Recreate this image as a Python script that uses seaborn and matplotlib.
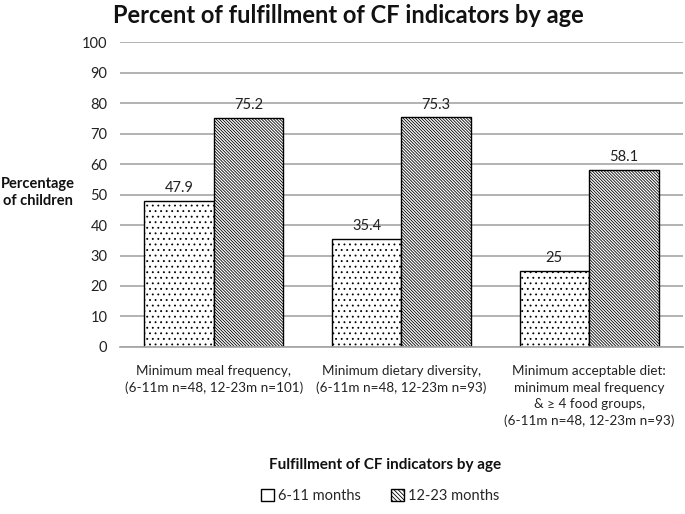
import matplotlib
matplotlib.use("Agg")
import matplotlib.pyplot as plt
import seaborn as sns
import pandas as pd

categories = [
    "Minimum meal frequency,\n(6-11m n=48, 12-23m n=101)",
    "Minimum dietary diversity,\n(6-11m n=48, 12-23m n=93)",
    "Minimum acceptable diet:\nminimum meal frequency\n& \u2265 4 food groups,\n(6-11m n=48, 12-23m n=93)",
]
series = ["6-11 months", "12-23 months"]
values_6_11 = [47.9, 35.4, 25]
values_12_23 = [75.2, 75.3, 58.1]
value_labels_6_11 = ["47.9", "35.4", "25"]
value_labels_12_23 = ["75.2", "75.3", "58.1"]

df = pd.DataFrame({
    "category": categories * 2,
    "age": [series[0]] * 3 + [series[1]] * 3,
    "value": values_6_11 + values_12_23,
})

sns.set_theme(style="white")
plt.rcParams["font.family"] = ["Lato", "DejaVu Sans"]
plt.rcParams["hatch.linewidth"] = 0.6
plt.rcParams["hatch.color"] = "#333333"

fig = plt.figure(figsize=(6.85, 5.14), dpi=100)
ax = fig.add_axes([0.175, 0.325, 0.822, 0.593])

sns.barplot(data=df, x="category", y="value", hue="age", hue_order=series,
            palette=["white", "white"], width=0.74, edgecolor="black",
            linewidth=1.0, ax=ax, legend=True, saturation=1)

hatches = ["...", "\\" * 11]
for i, cont in enumerate(ax.containers):
    for bar in cont:
        bar.set_hatch(hatches[i])
        bar.set_edgecolor("black")
labels_all = [value_labels_6_11, value_labels_12_23]
for i, cont in enumerate(ax.containers):
    ax.bar_label(cont, labels=labels_all[i], padding=4, fontsize=10.5, color="#222222")

ax.set_ylim(0, 100)
ax.set_yticks(range(0, 101, 10))
ax.yaxis.grid(True, color="#a6a6a6", linewidth=1.2)
ax.set_axisbelow(True)
for s in ["left", "right", "top"]:
    ax.spines[s].set_visible(False)
ax.spines["bottom"].set_color("#a6a6a6")
ax.tick_params(axis="y", labelsize=10.5, colors="#222222", length=0, pad=9)
ax.tick_params(axis="x", labelsize=9.7, colors="#222222", length=0, pad=13)
for t in ax.get_xticklabels():
    t.set_linespacing(1.45)
ax.set_xlim(-0.5, 2.5)

ax.set_xlabel("")
ax.set_ylabel("")
fig.text(0.562, 0.095, "Fulfillment of CF indicators by age", ha="center", va="center",
         fontsize=11, fontweight="bold", color="#111111")
fig.text(0.055, 0.625, "Percentage\nof children", ha="center", va="center",
         fontsize=10.5, fontweight="bold", color="#111111", linespacing=1.25)
fig.text(0.508, 0.97, "Percent of fulfillment of CF indicators by age", ha="center",
         va="center", fontsize=17, fontweight="bold", color="#111111")

handles, lbls = ax.get_legend_handles_labels()
leg = ax.legend(handles, lbls, loc="center", bbox_to_anchor=(0.555, 0.035),
                bbox_transform=fig.transFigure,
                ncol=2, frameon=False, fontsize=10.5, handlelength=0.9, handleheight=0.9,
                columnspacing=2.0, handletextpad=0.3)
for h, hat in zip(leg.legend_handles, ["", "\\" * 8]):
    h.set_hatch(hat)
    h.set_edgecolor("black")
    h.set_facecolor("white")

fig.savefig("out.png", dpi=100)
